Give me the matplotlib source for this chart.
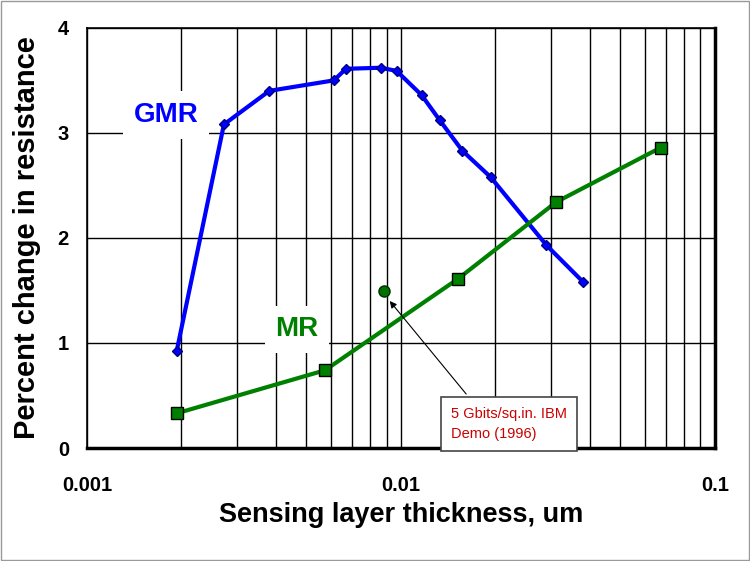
import numpy as np
import matplotlib
matplotlib.use("Agg")
from matplotlib import pyplot as plt
from matplotlib.ticker import LogLocator, FixedLocator, NullFormatter

plt.rcParams['font.family'] = ['Liberation Sans', 'DejaVu Sans']

# data
gmr_x = [0.00193, 0.00273, 0.00381, 0.00612, 0.00668, 0.00863, 0.00969,
         0.01164, 0.0133, 0.0157, 0.0193, 0.0291, 0.0381]
gmr_y = [0.92, 3.08, 3.40, 3.50, 3.61, 3.62, 3.59,
         3.36, 3.12, 2.83, 2.58, 1.93, 1.58]

mr_x = [0.00193, 0.00573, 0.0152, 0.0312, 0.0673]
mr_y = [0.33, 0.74, 1.61, 2.34, 2.86]

demo_x = [0.00883]
demo_y = [1.49]

x_ticks = [0.001, 0.01, 0.1]
x_ticklabels = ["0.001", "0.01", "0.1"]
y_ticks = [0, 1, 2, 3, 4]


def main():
    fig = plt.figure(figsize=(7.5, 5.61), dpi=100)
    ax = fig.add_axes([0.116, 0.2014, 0.837, 0.749])

    ax.set_xscale("log")
    ax.set_xlim(0.001, 0.1)
    ax.set_ylim(0, 4)

    ax.xaxis.set_major_locator(FixedLocator(x_ticks))
    ax.xaxis.set_minor_locator(LogLocator(base=10, subs=np.arange(2, 10)))
    ax.xaxis.set_minor_formatter(NullFormatter())
    ax.set_xticks(x_ticks)
    ax.set_xticklabels(x_ticklabels)
    ax.set_yticks(y_ticks)

    ax.grid(True, which="both", axis="x", color="black", linewidth=1)
    ax.grid(True, which="major", axis="y", color="black", linewidth=1)
    ax.set_axisbelow(True)
    ax.tick_params(which="both", length=0, labelsize=14.5)
    ax.tick_params(axis="x", pad=20)
    ax.tick_params(axis="y", pad=13)
    for lab in ax.get_xticklabels() + ax.get_yticklabels():
        lab.set_fontweight("bold")

    for s in ax.spines.values():
        s.set_color("black")
        s.set_linewidth(1.2)
    ax.spines["bottom"].set_linewidth(2.5)
    ax.spines["right"].set_linewidth(2.5)

    ax.plot(gmr_x, gmr_y, color="#0000ff", linewidth=3, marker="D",
            markersize=5, markerfacecolor="#0000ff", markeredgecolor="#000080",
            zorder=3)
    ax.plot(mr_x, mr_y, color="#008000", linewidth=3, marker="s",
            markersize=8, markerfacecolor="#008000", markeredgecolor="black",
            zorder=3)
    ax.plot(demo_x, demo_y, linestyle="none", marker="o", markersize=8,
            markerfacecolor="#007000", markeredgecolor="#003000", zorder=4)

    ax.text(0.001785, 3.17, "GMR", color="#0000ff", fontsize=20,
            ha="center", va="center", fontweight="bold",
            bbox=dict(facecolor="white", edgecolor="none", pad=7.5), zorder=2)
    ax.text(0.004666, 1.13, "MR", color="#008000", fontsize=20,
            ha="center", va="center", fontweight="bold",
            bbox=dict(facecolor="white", edgecolor="none", pad=7.5), zorder=2)

    ax.annotate("5 Gbits/sq.in. IBM\nDemo (1996)",
                xy=(demo_x[0] * 1.03, demo_y[0] - 0.07),
                xytext=(0.0221, 0.23), textcoords="data",
                color="#cc0000", fontsize=10.5,
                ha="center", va="center", multialignment="left",
                linespacing=1.6, annotation_clip=False,
                bbox=dict(facecolor="white", edgecolor="#444444",
                          linewidth=1.2, pad=7),
                arrowprops=dict(arrowstyle="-|>", color="black", linewidth=0.8,
                                mutation_scale=10,
                                relpos=(0.22, 1.0)),
                zorder=5)

    ax.set_xlabel("Sensing layer thickness, um", fontsize=19.5,
                  fontweight="bold", labelpad=5)
    ax.set_ylabel("Percent change in resistance", fontsize=21,
                  fontweight="bold", labelpad=12)

    fig.patches.append(plt.Rectangle((0.001, 0.001), 0.998, 0.997,
                                     transform=fig.transFigure, fill=False,
                                     edgecolor="#999999", linewidth=1))

    fig.savefig("out.png", dpi=100)


if __name__ == "__main__":
    main()
